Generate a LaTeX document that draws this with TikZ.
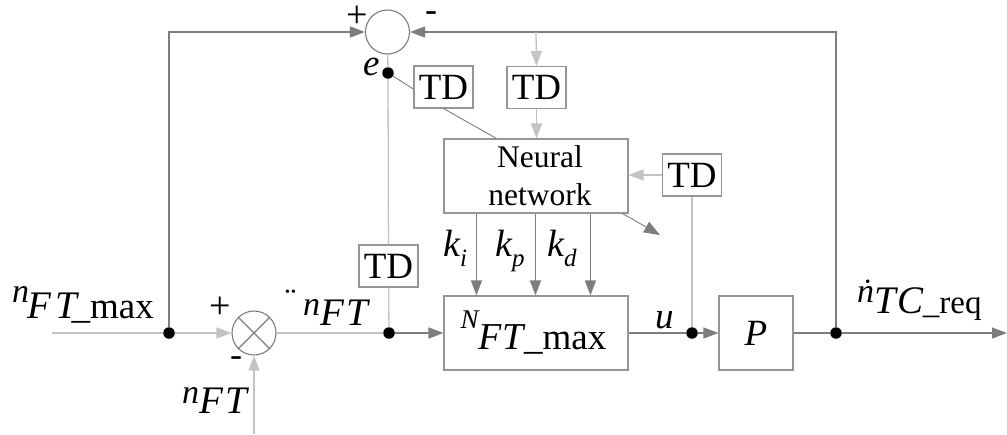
\documentclass[tikz,border=0pt]{standalone}
\usepackage{fontspec}
\setmainfont{Liberation Serif}
\usetikzlibrary{arrows.meta,calc}
\newcommand\fsz[1]{\fontsize{#1}{#1}\selectfont}
\definecolor{lnd}{RGB}{125,125,125}
\definecolor{lnl}{RGB}{195,195,195}
\definecolor{boxc}{RGB}{150,150,150}

\begin{document}
\begin{tikzpicture}[x=1pt,y=-1pt,
  line/.style={draw=lnd, line width=1.2pt},
  light/.style={draw=lnl, line width=1.3pt},
  arr/.style={-{Triangle[length=15pt,width=11pt]}},
  blk/.style={draw=boxc, line width=1.1pt, inner sep=0pt},
  tdbox/.style={blk, minimum width=59pt, minimum height=42pt, font=\fsz{37}},
  dot/.style={circle, fill=black, inner sep=0pt, minimum size=11.5pt},
  summ/.style={circle, draw=lnd, line width=1.1pt, minimum size=44pt, inner sep=0pt},
  lab/.style={inner sep=0pt, anchor=base west, font=\fsz{39}\itshape},
  sgn/.style={inner sep=0pt, font=\fsz{38}}
]
\useasboundingbox (0,0) rectangle (1007,434);

% blocks
\node[summ] (sum) at (387.5,32) {};
\node[summ] (mult) at (254,333) {};
\draw[lnd, line width=1.1pt] (mult.north west) -- (mult.south east)
                             (mult.north east) -- (mult.south west);
\node[blk, minimum width=184pt, minimum height=74pt, align=center,
      font=\fontsize{31.5}{38}\selectfont] (nn) at (536,176)
      {\hspace*{8pt}Neural\\\hspace*{8pt}network};
\node[blk, minimum width=184pt, minimum height=74pt] (nft) at (536,333)
      {\raisebox{21pt}{\fsz{27}\itshape N}{\fsz{38}\itshape F\kern1pt T\upshape\fsz{37}\_max}\hspace*{5pt}};
\node[blk, minimum width=74pt, minimum height=74pt, font=\fsz{37}\itshape] (plant) at (756,333) {P};
\node[tdbox] (tdA) at (443.5,87) {TD};
\node[tdbox] (tdB) at (536.5,87.5) {TD};
\node[tdbox] (tdC) at (692,175) {TD};
\node[tdbox] (tdD) at (388.5,266) {TD};

% junction points
\node[dot] (edot) at (388,73) {};
\node[dot] (j1) at (169,333) {};
\node[dot] (j2) at (389,333) {};
\node[dot] (j3) at (692,333) {};
\node[dot] (j4) at (836,333) {};
\coordinate (in) at (52,333);
\coordinate (nin) at (254,434);
\coordinate (out) at (1007,333);
\coordinate (tap) at (536,32);
\coordinate (dg) at (660,235);

% main loop
\draw[light] (in) -- (j1);
\draw[light,arr] (j1) -- (mult);
\draw[light,arr] (nin) -- (mult);
\draw[light] (mult) -- (j2);
\draw[line,arr] (j2) -- (nft);
\draw[line] (nft) -- (j3);
\draw[line,arr] (j3) -- (plant);
\draw[line] (plant) -- (j4);
\draw[line,arr] (j4) -- (out);

% error summing junction
\draw[line,arr] (j1) |- (sum);
\draw[line,arr] (j4) |- (sum);
\draw[light] (sum) -- (edot);
\draw[light] (edot) -- (tdD);
\draw[light] (tdD) -- (j2);

% neural network inputs
\draw[line, line width=0.9pt] (edot) -- ($(tdA.west)+(0,2)$);
\draw[line, line width=0.9pt] (tdA.south) -- ($(nn.north west)+(53,0)$);
\draw[light,arr] (tap) -- (tdB.north);
\draw[light,arr] (tdB.south) -- (tdB.south |- nn.north);
\draw[light,arr] (tdC.west) -- (tdC.west -| nn.east);
\draw[light] (tdC) -- (j3);

% gains
\draw[line,arr] ($(nn.south west)+(33,0)$) -- ($(nft.north west)+(33,0)$);
\draw[line,arr] ($(nn.south west)+(92,0)$) -- ($(nft.north west)+(92,0)$);
\draw[line,arr] ($(nn.south west)+(147,0)$) -- ($(nft.north west)+(147,0)$);
\draw[line, line width=0.9pt, -{Triangle[length=16pt,width=12pt]}] ($(nn.south east)+(-6,0)$) -- (dg);

% signs
\node[sgn] (p1) at (357,17) {+};
\node[sgn, font=\fsz{36}] (m1) at (431,17) {-};
\node[sgn] (p2) at (220,308) {+};
\node[sgn, font=\fsz{36}] (m2) at (236,362) {-};

% signal labels
\node[lab] (lmax) at (12,318) {\raisebox{16pt}{\fsz{34}n}\kern-2pt F\kern4pt T\kern-5pt\upshape\fsz{37}\_max};
\node[lab] (lnft) at (303,325) {\raisebox{10pt}{\fsz{34}\llap{\upshape\raisebox{4pt}{¨}\kern7pt}n}F\kern3pt T};
\node[lab] (lnin) at (182,413) {\raisebox{10pt}{\fsz{34}n}F\kern3pt T};
\node[lab, font=\fsz{37}\itshape] (le) at (363,75) {e};
\node[lab, font=\fsz{38}\itshape] (lki) at (443,256) {k\raisebox{-10pt}{\fsz{25}i}};
\node[lab, font=\fsz{38}\itshape] (lkp) at (495,256) {k\raisebox{-10pt}{\fsz{25}p}};
\node[lab, font=\fsz{38}\itshape] (lkd) at (547,256) {k\raisebox{-10pt}{\fsz{25}d}};
\node[lab, font=\fsz{37}\itshape] (lu) at (655,328) {u};
\node[lab] (lout) at (857,313) {\raisebox{11pt}{\fsz{34}\rlap{\upshape\kern5pt ˙}n}T\kern2pt C\kern-1pt{\fsz{33}\upshape\_req}};
\end{tikzpicture}
\end{document}
